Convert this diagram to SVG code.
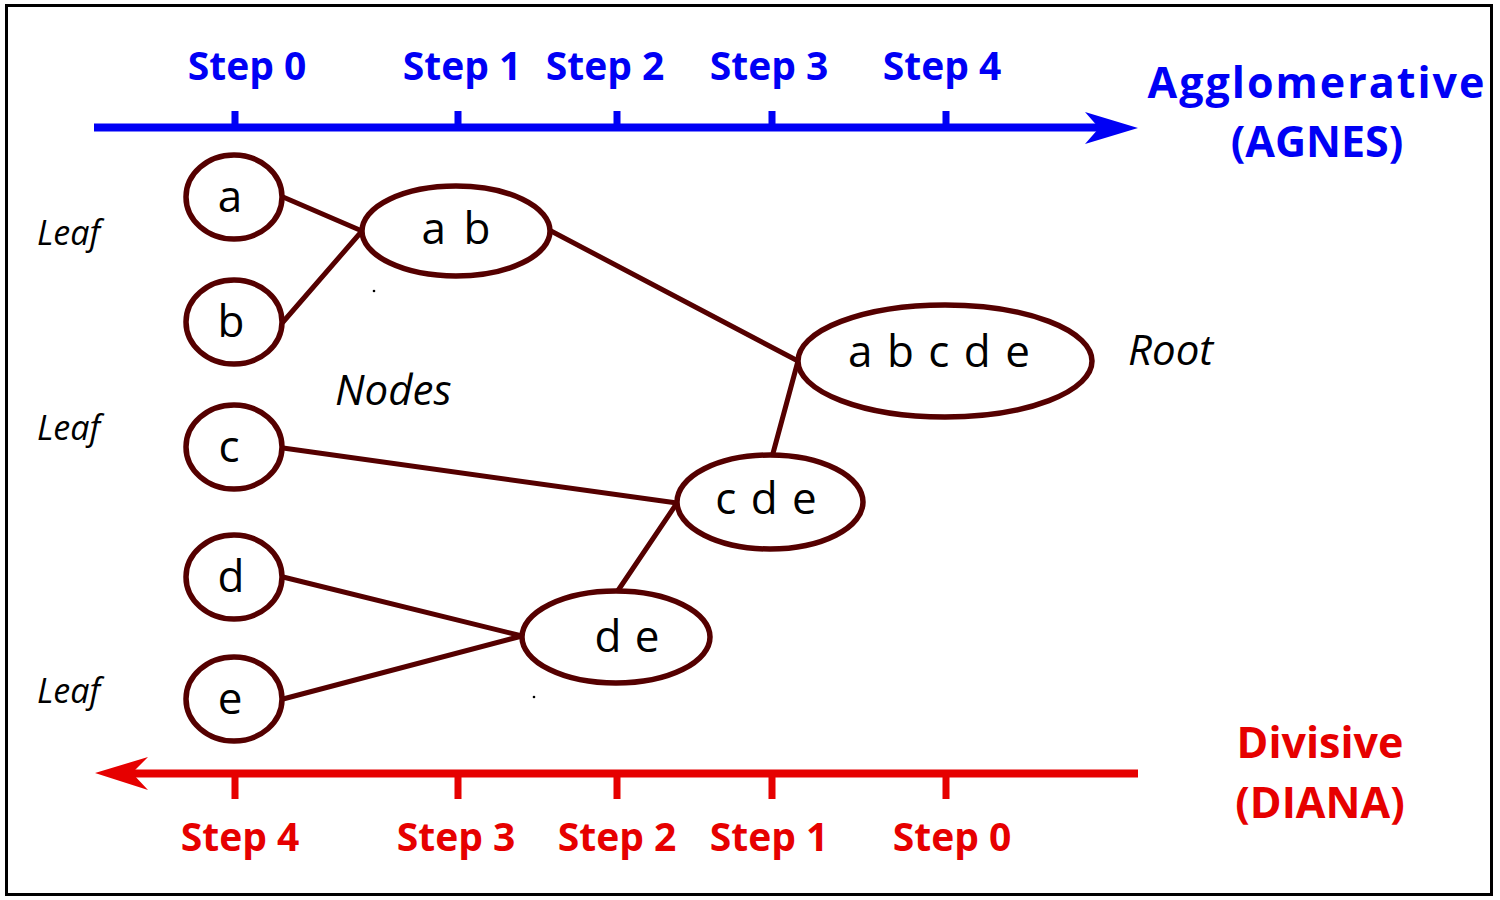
<svg xmlns="http://www.w3.org/2000/svg" width="1500" height="900" viewBox="0 0 1500 900">
<defs>
<style>
.node ellipse{fill:#ffffff;stroke:#550000;stroke-width:5.5}
.node text{font-family:"Open Sans","Liberation Sans",sans-serif;font-size:44px;fill:#000;text-anchor:middle}
.conn line{stroke:#550000;stroke-width:5;stroke-linecap:round}
.lbl{font-family:"Open Sans","Liberation Sans",sans-serif;font-style:italic;fill:#000}
.stepB{font-family:"Open Sans","Liberation Sans",sans-serif;font-weight:bold;font-size:39px;fill:#0000f5;text-anchor:middle}
.stepR{font-family:"Open Sans","Liberation Sans",sans-serif;font-weight:bold;font-size:39px;fill:#e60000;text-anchor:middle}
.title{font-family:"Open Sans","Liberation Sans",sans-serif;font-weight:bold;font-size:43px;text-anchor:middle}
</style>
</defs>
<rect x="0" y="0" width="1500" height="900" fill="#ffffff"/>
<rect x="6.5" y="5.5" width="1485" height="889" fill="none" stroke="#000" stroke-width="3"/>

<g id="agnes-axis">
<line x1="94" y1="127.5" x2="1105" y2="127.5" stroke="#0000f5" stroke-width="8"/>
<path d="M1138,128 L1085,112 L1099,128 L1085,144 Z" fill="#0000f5"/>
<g fill="#0000f5">
<rect x="231.5" y="111" width="7" height="14"/>
<rect x="454.5" y="111" width="7" height="14"/>
<rect x="613.5" y="111" width="7" height="14"/>
<rect x="768.5" y="111" width="7" height="14"/>
<rect x="942.5" y="111" width="7" height="14"/>
</g>
<text class="stepB" x="247" y="80">Step 0</text>
<text class="stepB" x="462" y="80">Step 1</text>
<text class="stepB" x="605" y="80">Step 2</text>
<text class="stepB" x="769" y="80">Step 3</text>
<text class="stepB" x="942" y="80">Step 4</text>
<text class="title" x="1317" y="98" fill="#0000f5" letter-spacing="2">Agglomerative</text>
<text class="title" x="1317" y="157" fill="#0000f5">(AGNES)</text>
</g>

<g id="diana-axis">
<line x1="1138" y1="773.5" x2="125" y2="773.5" stroke="#e60000" stroke-width="8"/>
<path d="M95,773 L148,757 L132,773 L148,790 Z" fill="#e60000"/>
<g fill="#e60000">
<rect x="231.5" y="775" width="7" height="24"/>
<rect x="454.5" y="775" width="7" height="24"/>
<rect x="613.5" y="775" width="7" height="24"/>
<rect x="768.5" y="775" width="7" height="24"/>
<rect x="942.5" y="775" width="7" height="24"/>
</g>
<text class="stepR" x="240" y="851">Step 4</text>
<text class="stepR" x="456" y="851">Step 3</text>
<text class="stepR" x="617" y="851">Step 2</text>
<text class="stepR" x="769" y="851">Step 1</text>
<text class="stepR" x="952" y="851">Step 0</text>
<text class="title" x="1320" y="758" fill="#e60000">Divisive</text>
<text class="title" x="1320" y="818" fill="#e60000">(DIANA)</text>
</g>

<g id="connectors" class="conn">
<line x1="283" y1="197" x2="362" y2="231"/>
<line x1="283" y1="322" x2="362" y2="231"/>
<line x1="551" y1="231" x2="798" y2="361"/>
<line x1="772" y1="457" x2="798" y2="361"/>
<line x1="283" y1="448" x2="677" y2="503"/>
<line x1="617" y1="592" x2="677" y2="503"/>
<line x1="283" y1="577" x2="522" y2="636"/>
<line x1="283" y1="699" x2="522" y2="636"/>
</g>

<g id="node-a" class="node"><ellipse cx="234" cy="197" rx="48" ry="42"/><text x="230" y="212">a</text></g>
<g id="node-b" class="node"><ellipse cx="234" cy="322" rx="48" ry="42"/><text x="231" y="337">b</text></g>
<g id="node-c" class="node"><ellipse cx="234" cy="447" rx="48" ry="42"/><text x="229" y="462">c</text></g>
<g id="node-d" class="node"><ellipse cx="234" cy="577" rx="48" ry="42"/><text x="231" y="592">d</text></g>
<g id="node-e" class="node"><ellipse cx="234" cy="699" rx="48" ry="42"/><text x="230" y="714">e</text></g>
<g id="node-ab" class="node"><ellipse cx="456" cy="231" rx="94" ry="45"/><text x="456" y="244" word-spacing="6">a b</text></g>
<g id="node-abcde" class="node"><ellipse cx="945" cy="361" rx="147" ry="56"/><text x="939" y="367" word-spacing="3">a b c d e</text></g>
<g id="node-cde" class="node"><ellipse cx="770" cy="502" rx="93" ry="47"/><text x="766" y="514" word-spacing="3">c d e</text></g>
<g id="node-de" class="node"><ellipse cx="616" cy="637" rx="94" ry="46"/><text x="627" y="652" word-spacing="2">d e</text></g>

<g id="labels">
<text class="lbl" x="37" y="245" font-size="34">Leaf</text>
<text class="lbl" x="37" y="440" font-size="34">Leaf</text>
<text class="lbl" x="37" y="703" font-size="34">Leaf</text>
<text class="lbl" x="335" y="405" font-size="42">Nodes</text>
<text class="lbl" x="1128" y="365" font-size="42">Root</text>
<circle cx="374" cy="291" r="1.3" fill="#000"/>
<circle cx="534" cy="697" r="1.3" fill="#000"/>
</g>
</svg>
